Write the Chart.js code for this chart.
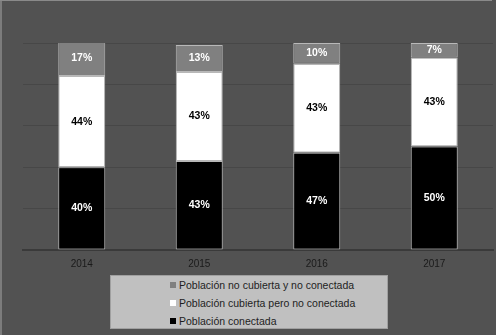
<!DOCTYPE html>
<html><head><meta charset="utf-8">
<script src="https://cdn.jsdelivr.net/npm/chart.js@4/dist/chart.umd.min.js"></script>
<style>
html,body{margin:0;padding:0;background:#525252;}
#wrap{position:relative;width:496px;height:335px;background:#525252;overflow:hidden;}
#wrap:before{content:"";position:absolute;left:0;top:0;width:2px;height:335px;background:#7c7c7c;z-index:2;}
#wrap:after{content:"";position:absolute;left:0;top:0;width:492px;height:1px;background:#8a8a8a;z-index:2;}
canvas{position:absolute;left:0;top:0;}
#legend{position:absolute;left:110px;top:275px;width:276px;height:52px;background:#c0c0c0;border:1px solid #a0a0a0;font-family:"Liberation Sans",Arial,sans-serif;font-size:10.5px;color:#1e1e1e;}
.item{position:absolute;left:59px;height:14px;line-height:14px;white-space:nowrap;}
.sw{display:inline-block;width:6px;height:6px;margin-right:3px;vertical-align:1px;}
</style></head>
<body>
<div id="wrap"><canvas id="c" width="496" height="335"></canvas><div id="legend"></div></div>
<script>
const categories = ["2014","2015","2016","2017"];
const conectada = [40,43,47,50];
const cubiertaNoConectada = [44,43,43,43];
const noCubierta = [17,13,10,7];
const seriesNames = ["Población conectada","Población cubierta pero no conectada","Población no cubierta y no conectada"];
const seriesColors = ["#000000","#ffffff","#808080"];
const labelColors = ["#ffffff","#000000","#ffffff"];

const datasets = [conectada, cubiertaNoConectada, noCubierta].map((d,i)=>({
  label: seriesNames[i], data: d, backgroundColor: seriesColors[i],
  borderColor: "#b8b8b8", borderWidth: 1, borderSkipped: false,
  barPercentage: 0.4, categoryPercentage: 1.0
}));

const valueLabels = {
  id: "valueLabels",
  afterDatasetsDraw(chart){
    const ctx = chart.ctx;
    ctx.save();
    ctx.font = "bold 10.5px 'Liberation Sans', Arial, sans-serif";
    ctx.textAlign = "center"; ctx.textBaseline = "middle";
    chart.data.datasets.forEach((ds,i)=>{
      const meta = chart.getDatasetMeta(i);
      meta.data.forEach((bar,j)=>{
        const p = bar.getProps(["x","y","base"],true);
        ctx.fillStyle = labelColors[i];
        ctx.fillText(ds.data[j]+"%", p.x, (p.y+p.base)/2);
      });
    });
    ctx.restore();
  }
};

new Chart(document.getElementById("c"), {
  type: "bar",
  data: { labels: categories, datasets },
  options: {
    responsive: false, animation: false,
    layout: { padding: { left: 23, right: 3, top: 43, bottom: 65 } },
    plugins: { legend: { display: false }, tooltip: { enabled: false } },
    scales: {
      x: { stacked: true,
        grid: { display: false },
        border: { display: true, color: "#3a3a3a", width: 2 },
        ticks: { color: "#1a1a1a", font: { size: 10, family: "'Liberation Sans', Arial, sans-serif" }, padding: 0 } },
      y: { stacked: true, min: 0, max: 100,
        ticks: { display: false, stepSize: 20 },
        grid: { color: "#474747", drawTicks: false, lineWidth: 1 },
        border: { display: false } }
    }
  },
  plugins: [valueLabels]
});

const lg = document.getElementById("legend");
[2,1,0].forEach((idx,k)=>{
  const it = document.createElement("div");
  it.className = "item";
  it.style.top = (2 + k*18) + "px";
  const sw = document.createElement("span");
  sw.className = "sw"; sw.style.background = seriesColors[idx];
  it.appendChild(sw);
  it.appendChild(document.createTextNode(seriesNames[idx]));
  lg.appendChild(it);
});
</script>
</body></html>
